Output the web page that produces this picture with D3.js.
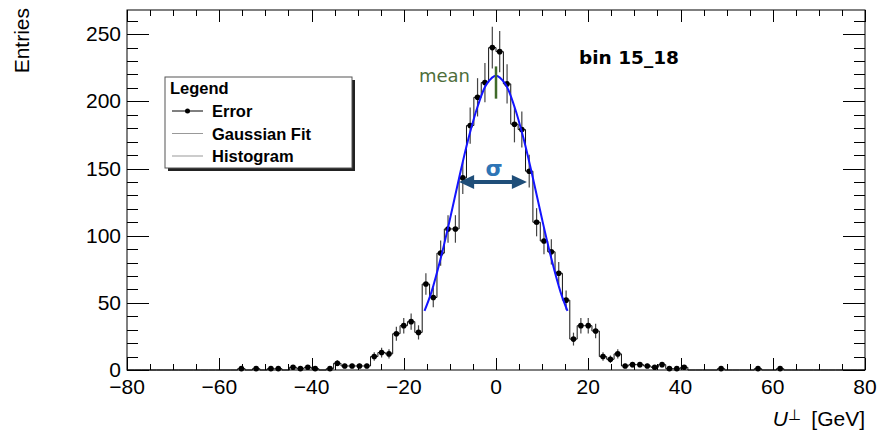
<!DOCTYPE html>
<html>
<head>
<meta charset="utf-8">
<script src="https://cdn.jsdelivr.net/npm/d3@7"></script>
<style>
  body { margin: 0; background: #fff; }
  svg { display: block; }
</style>
</head>
<body>
<svg id="canvas"></svg>
<script>
const WIDTH = 880;
const HEIGHT = 432;
// frame of the pad
const PLOT = { left: 127, right: 865, top: 10, bottom: 370 };

// histogram: 100 bins from -80 to 80
const xLimits = [-80, 80];
const yLimits = [0, 268];
const counts = [
    0, 0, 0, 0, 0, 0, 0, 0, 0, 0,
    0, 0, 0, 0, 0, 1, 0, 1, 0, 1,
    1, 0, 2, 1, 2, 1, 0, 1, 5, 3,
    3, 3, 3, 10, 13, 12, 27, 33, 36, 28,
    64, 54, 87, 105, 105, 143, 182, 203, 214, 240,
    237, 213, 183, 179, 148, 110, 96, 88, 72, 52,
    23, 33, 33, 29, 10, 8, 12, 3, 4, 4,
    3, 2, 4, 1, 1, 2, 0, 0, 0, 0,
    1, 0, 0, 0, 0, 1, 0, 0, 1, 0,
    0, 0, 0, 0, 0, 0, 0, 0, 0, 0
];
const xTicks = [-80, -60, -40, -20, 0, 20, 40, 60, 80];
const yTicks = [0, 50, 100, 150, 200, 250];

// gaussian fit, points
const fitX = [-15.5, -14, -12, -10, -8, -6, -4, -2, 0, 2, 4, 6, 8, 10, 12, 14, 15.5];
const fitY = [44, 58, 83, 112, 143, 172, 196, 213, 219, 213, 196, 172, 143, 112, 83, 58, 44];

// annotations
const meanX = 0;
const meanSpan = [202, 226];
const sigmaSpan = [-8.0, 6.7];
const sigmaLevel = 140;
const binLabel = "bin 15_18";
const legendTitle = "Legend";
const legendLabels = ["Error", "Gaussian Fit", "Histogram"];

const nBins = counts.length;
const binWidth = (xLimits[1] - xLimits[0]) / nBins;
const bins = counts.map((c, i) => ({
    x0: xLimits[0] + i * binWidth,
    x1: xLimits[0] + (i + 1) * binWidth,
    xc: xLimits[0] + (i + 0.5) * binWidth,
    n: c
}));

const scaleX = d3.scaleLinear(xLimits, [PLOT.left, PLOT.right]);
const scaleY = d3.scaleLinear(yLimits, [PLOT.bottom, PLOT.top]);

const FONT = "'Liberation Sans', Arial, Helvetica, sans-serif";

const canvas = d3.select('#canvas')
    .attr('width', WIDTH)
    .attr('height', HEIGHT)
    .attr('font-family', FONT);

canvas.append('rect').attr('width', WIDTH).attr('height', HEIGHT).attr('fill', '#fff');

// histogram outline (steps)
const steps = [[scaleX(xLimits[0]), scaleY(0)]];
bins.forEach(b => {
    steps.push([scaleX(b.x0), scaleY(b.n)]);
    steps.push([scaleX(b.x1), scaleY(b.n)]);
});
steps.push([scaleX(xLimits[1]), scaleY(0)]);
canvas.append('path')
    .attr('d', d3.line()(steps))
    .attr('fill', 'none')
    .attr('stroke', '#111')
    .attr('stroke-width', 1);

// error bars and markers
const filled = bins.filter(b => b.n > 0);
canvas.append('g').selectAll('line')
    .data(filled)
    .enter()
    .append('line')
    .attr('x1', b => scaleX(b.xc))
    .attr('x2', b => scaleX(b.xc))
    .attr('y1', b => scaleY(b.n + Math.sqrt(b.n)))
    .attr('y2', b => scaleY(Math.max(0, b.n - Math.sqrt(b.n))))
    .attr('stroke', '#444')
    .attr('stroke-width', 1.2);

canvas.append('g').selectAll('circle')
    .data(filled)
    .enter()
    .append('circle')
    .attr('cx', b => scaleX(b.xc))
    .attr('cy', b => scaleY(b.n))
    .attr('r', 2.8)
    .attr('fill', '#000');

// gaussian fit
canvas.append('path')
    .attr('d', d3.line()
        .x((d, i) => scaleX(fitX[i]))
        .y(d => scaleY(d))
        .curve(d3.curveCatmullRom)(fitY))
    .attr('fill', 'none')
    .attr('stroke', '#1414ff')
    .attr('stroke-width', 2);

// frame
canvas.append('rect')
    .attr('x', PLOT.left)
    .attr('y', PLOT.top)
    .attr('width', PLOT.right - PLOT.left)
    .attr('height', PLOT.bottom - PLOT.top)
    .attr('fill', 'none')
    .attr('stroke', '#000')
    .attr('stroke-width', 1);

// ticks, ROOT style: inside, on all four sides
const tickG = canvas.append('g').attr('stroke', '#000').attr('stroke-width', 1);
d3.range(xLimits[0], xLimits[1] + 0.01, 5).forEach(v => {
    const major = v % 20 === 0;
    const len = major ? 12 : 6;
    const x = Math.round(scaleX(v)) + 0.5;
    tickG.append('line').attr('x1', x).attr('x2', x).attr('y1', PLOT.bottom).attr('y2', PLOT.bottom - len);
    tickG.append('line').attr('x1', x).attr('x2', x).attr('y1', PLOT.top).attr('y2', PLOT.top + len);
});
d3.range(0, yLimits[1], 10).forEach(v => {
    const major = v % 50 === 0;
    const len = major ? 22 : 11;
    const y = Math.round(scaleY(v)) + 0.5;
    tickG.append('line').attr('x1', PLOT.left).attr('x2', PLOT.left + len).attr('y1', y).attr('y2', y);
    tickG.append('line').attr('x1', PLOT.right).attr('x2', PLOT.right - len).attr('y1', y).attr('y2', y);
});

// tick labels
canvas.append('g').selectAll('text')
    .data(xTicks)
    .enter()
    .append('text')
    .attr('x', d => scaleX(d))
    .attr('y', PLOT.bottom + 24)
    .attr('text-anchor', 'middle')
    .attr('font-size', 21)
    .text(d => d3.format('d')(d));

canvas.append('g').selectAll('text')
    .data(yTicks)
    .enter()
    .append('text')
    .attr('x', PLOT.left - 6)
    .attr('y', d => scaleY(d) + 7)
    .attr('text-anchor', 'end')
    .attr('font-size', 21)
    .text(d => d);

// axis titles
canvas.append('text')
    .attr('transform', `translate(29, ${PLOT.top - 2}) rotate(-90)`)
    .attr('text-anchor', 'end')
    .attr('font-size', 21)
    .text('Entries');

const xTitle = canvas.append('text')
    .attr('x', PLOT.right)
    .attr('y', 426)
    .attr('text-anchor', 'end')
    .attr('font-size', 21);
xTitle.append('tspan').attr('font-style', 'italic').text('U');
xTitle.append('tspan').attr('font-size', 15).attr('dy', -6).text('\u22A5');
xTitle.append('tspan').attr('dy', 6).text('\u2002[GeV]');

// bin label
canvas.append('text')
    .attr('x', 579)
    .attr('y', 64)
    .attr('font-family', "'DejaVu Sans', sans-serif")
    .attr('font-weight', 'bold')
    .attr('font-size', 18.5)
    .text(binLabel);

// mean marker
canvas.append('line')
    .attr('x1', scaleX(meanX)).attr('x2', scaleX(meanX))
    .attr('y1', scaleY(meanSpan[0])).attr('y2', scaleY(meanSpan[1]))
    .attr('stroke', '#3f6a2a')
    .attr('stroke-width', 2.5);
canvas.append('text')
    .attr('x', scaleX(meanX) - 26)
    .attr('y', scaleY(meanSpan[1]) + 16)
    .attr('text-anchor', 'end')
    .attr('font-family', "'DejaVu Sans', sans-serif")
    .attr('font-size', 18)
    .attr('fill', '#4e6e3a')
    .text('mean');

// sigma arrow
const ay = scaleY(sigmaLevel);
const ax0 = scaleX(sigmaSpan[0]);
const ax1 = scaleX(sigmaSpan[1]);
const head = 15;
canvas.append('line')
    .attr('x1', ax0 + head - 2).attr('x2', ax1 - head + 2)
    .attr('y1', ay).attr('y2', ay)
    .attr('stroke', '#1f4e79')
    .attr('stroke-width', 4);
canvas.append('path')
    .attr('d', `M${ax0},${ay}L${ax0 + head},${ay - 7}L${ax0 + head},${ay + 7}Z`)
    .attr('fill', '#1f4e79');
canvas.append('path')
    .attr('d', `M${ax1},${ay}L${ax1 - head},${ay - 7}L${ax1 - head},${ay + 7}Z`)
    .attr('fill', '#1f4e79');
canvas.append('text')
    .attr('x', (ax0 + ax1) / 2 + 1)
    .attr('y', ay - 6)
    .attr('text-anchor', 'middle')
    .attr('font-family', "'DejaVu Sans', sans-serif")
    .attr('font-weight', 'bold')
    .attr('font-size', 22)
    .attr('fill', '#2e75b6')
    .text('\u03C3');

// legend
const leg = { x: 165, y: 77, w: 187, h: 91 };
const legendG = canvas.append('g');
legendG.append('rect')
    .attr('x', leg.x + 3).attr('y', leg.y + 3)
    .attr('width', leg.w).attr('height', leg.h)
    .attr('fill', '#222');
legendG.append('rect')
    .attr('x', leg.x).attr('y', leg.y)
    .attr('width', leg.w).attr('height', leg.h)
    .attr('fill', '#fff')
    .attr('stroke', '#555')
    .attr('stroke-width', 1);
legendG.append('text')
    .attr('x', leg.x + 5)
    .attr('y', leg.y + 17)
    .attr('font-weight', 'bold')
    .attr('font-size', 16.5)
    .text(legendTitle);
const rowY = [111, 133.5, 156];
legendLabels.forEach((label, i) => {
    const y = rowY[i];
    legendG.append('line')
        .attr('x1', 172).attr('x2', 203)
        .attr('y1', y).attr('y2', y)
        .attr('stroke', i === 0 ? '#000' : '#999')
        .attr('stroke-width', 1);
    if (i === 0) {
        legendG.append('circle').attr('cx', 187.5).attr('cy', y).attr('r', 2.5).attr('fill', '#000');
    }
    legendG.append('text')
        .attr('x', 212)
        .attr('y', y + 6)
        .attr('font-weight', 'bold')
        .attr('font-size', 16.5)
        .text(label);
});
</script>
</body>
</html>
